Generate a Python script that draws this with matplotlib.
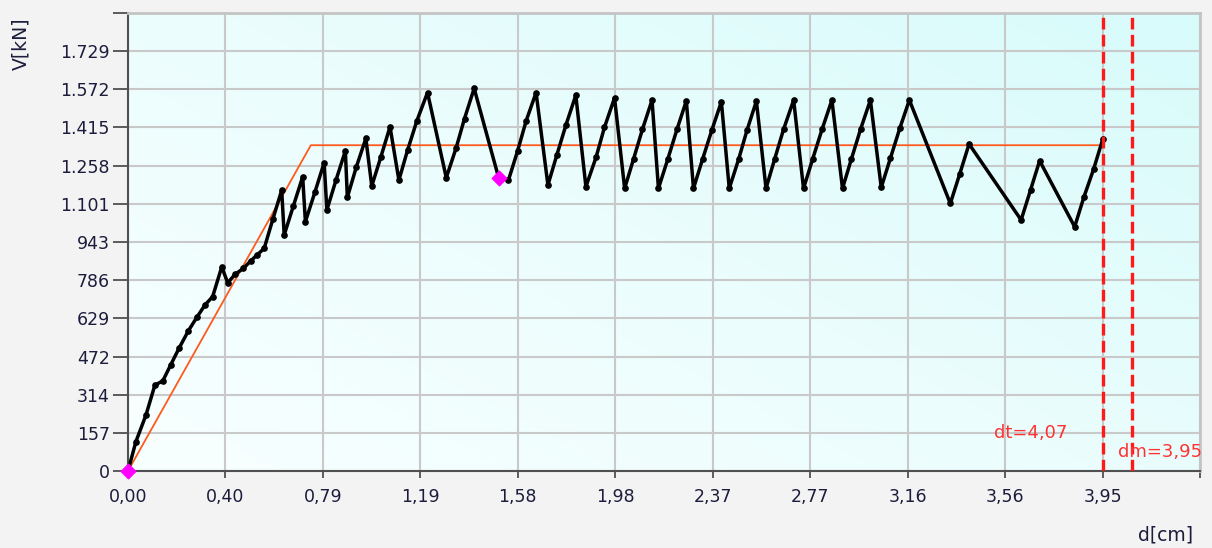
import numpy as np
import matplotlib
matplotlib.use("Agg")
import matplotlib.pyplot as plt
from matplotlib.colors import LinearSegmentedColormap

# pushover curve d[cm] vs V[kN]
d_curve = [0.000, 0.032, 0.073, 0.109, 0.141, 0.173, 0.208, 0.245, 0.279, 0.312,
           0.343, 0.380, 0.404, 0.434, 0.468, 0.498, 0.522, 0.552, 0.587, 0.623,
           0.633, 0.670, 0.708, 0.719, 0.758, 0.795, 0.806, 0.843, 0.881, 0.889,
           0.925, 0.964, 0.988, 1.025, 1.062, 1.098, 1.133, 1.171, 1.214, 1.290,
           1.330, 1.364, 1.403, 1.502, 1.542, 1.579, 1.614, 1.654, 1.702, 1.738,
           1.775, 1.815, 1.856, 1.897, 1.931, 1.972, 2.013, 2.049, 2.085, 2.124,
           2.150, 2.188, 2.225, 2.263, 2.292, 2.329, 2.367, 2.405, 2.437, 2.475,
           2.509, 2.547, 2.586, 2.621, 2.657, 2.698, 2.738, 2.775, 2.813, 2.853,
           2.896, 2.932, 2.969, 3.009, 3.053, 3.090, 3.128, 3.167, 3.333, 3.371,
           3.409, 3.620, 3.658, 3.695, 3.837, 3.874, 3.914, 3.951]
v_curve = [0, 121, 231, 354, 371, 437, 508, 578, 633, 684,
           718, 841, 775, 810, 835, 866, 889, 917, 1037, 1157,
           972, 1091, 1212, 1027, 1150, 1270, 1075, 1198, 1319, 1127,
           1251, 1370, 1174, 1294, 1418, 1198, 1321, 1443, 1559, 1208,
           1331, 1452, 1576, 1209, 1198, 1318, 1443, 1559, 1178, 1301,
           1425, 1548, 1171, 1292, 1415, 1537, 1164, 1285, 1407, 1528,
           1164, 1285, 1407, 1525, 1164, 1285, 1406, 1521, 1164, 1284,
           1404, 1524, 1164, 1285, 1407, 1528, 1164, 1285, 1407, 1528,
           1164, 1285, 1407, 1528, 1168, 1288, 1411, 1528, 1102, 1223,
           1347, 1034, 1157, 1278, 1006, 1127, 1244, 1367]

# bilinear idealisation
d_bilin = [0.0, 0.741, 3.95]
v_bilin = [0, 1342, 1342]

# highlighted points
d_mark = [0.0, 1.502]
v_mark = [0, 1209]

# target / max displacement lines
d_vlines = [3.95, 4.07]
vline_labels = ["dt=4,07", "dm=3,95"]

x_step = 0.395
y_step = 157.22
x_ticks = [x_step * i for i in range(12)]
x_labels = ["0,00", "0,40", "0,79", "1,19", "1,58", "1,98", "2,37", "2,77",
            "3,16", "3,56", "3,95", ""]
y_ticks = [y_step * i for i in range(13)]
y_labels = ["0", "157", "314", "472", "629", "786", "943", "1.101", "1.258",
            "1.415", "1.572", "1.729", ""]

plt.rcParams['font.family'] = ['DejaVu Sans']

fig = plt.figure(figsize=(12.12, 5.48), dpi=100)
fig.patch.set_facecolor('#f3f3f3')
ax = fig.add_axes([128 / 1212, 1 - 471 / 548, 1072 / 1212, 458 / 548])

# background gradient (white-ish bottom left -> cyan top right)
gx, gy = np.meshgrid(np.linspace(0, 1, 200), np.linspace(0, 1, 200))
grad = (gx * 0.55 + gy * 0.45)
cmap_bg = LinearSegmentedColormap.from_list('bg', ['#f8ffff', '#ebfdfd', '#d8fbfb'])
ax.imshow(grad, cmap=cmap_bg, origin='lower', extent=[0, 1, 0, 1],
          transform=ax.transAxes, aspect='auto', zorder=0)

ax.set_xlim(0, x_ticks[-1])
ax.set_ylim(0, y_ticks[-1])

ax.grid(True, color='#c9c9c9', linewidth=1.5, zorder=1)
ax.set_axisbelow(True)

ax.plot(d_bilin, v_bilin, color='#ff5a1e', linewidth=1.3, zorder=3)
ax.plot(d_curve, v_curve, color='black', linewidth=2.5, marker='o',
        markersize=3.8, zorder=4)
ax.scatter(d_mark, v_mark, marker='D', s=55, color='#ff00ff', zorder=5,
           clip_on=False)

for xv in d_vlines:
    ax.axvline(xv, color='#ff1a1a', linewidth=2.4, linestyle=(0, (3.5, 1.6)),
               zorder=6)

ax.text(3.808, 156, vline_labels[0], color='#ff3333',
        fontsize=13, ha='right', va='center', zorder=7)
ax.text(4.014, 78, vline_labels[1], color='#ff3333',
        fontsize=13, ha='left', va='center', zorder=7, clip_on=False)

ax.set_xticks(x_ticks)
ax.set_xticklabels(x_labels)
ax.set_yticks(y_ticks)
ax.set_yticklabels(y_labels)
ax.tick_params(axis='both', labelsize=12.5, colors='#505050', labelcolor='#1c1c3c')
ax.tick_params(axis='y', length=10.5, width=1.3, pad=2.5)
ax.tick_params(axis='x', length=5, width=1.3, pad=7)

for side in ['left', 'bottom']:
    ax.spines[side].set_color('#505050')
    ax.spines[side].set_linewidth(1.5)
for side in ['top', 'right']:
    ax.spines[side].set_color('#c4c4c4')
    ax.spines[side].set_linewidth(2)

fig.text(21 / 1212, 1 - 44 / 548, "V[kN]", rotation=90, fontsize=13.5,
         color='#1c1c3c', ha='center', va='center')
fig.text(1166 / 1212, 1 - 535 / 548, "d[cm]", fontsize=13.5,
         color='#1c1c3c', ha='center', va='center')

fig.savefig('out.png', dpi=100, facecolor=fig.get_facecolor())
